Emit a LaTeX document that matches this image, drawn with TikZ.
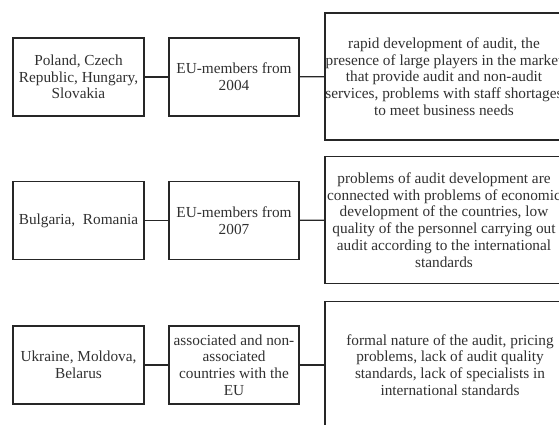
\documentclass[tikz,border=0pt]{standalone}
\usepackage{fontspec}
\setmainfont{Liberation Serif}
\usepackage{xcolor}
\definecolor{boxline}{HTML}{262626}
\definecolor{boxtext}{HTML}{303030}
\usepackage{tikz}
\usetikzlibrary{positioning}

\tikzset{
  country/.style={draw=boxline, line width=1.8pt, align=center, inner sep=0pt,
    minimum width=131pt, minimum height=78pt, text=boxtext},
  status/.style={country, minimum width=130pt},
  problem/.style={country, minimum width=238pt, minimum height=127pt},
  link/.style={draw=boxline, line width=1.3pt}
}

\begin{document}
\begin{tikzpicture}[x=1pt, y=-1pt, font=\fontsize{15.3}{16.7}\selectfont]
  \useasboundingbox (0,0) rectangle (559,424);
  \clip (0,0) rectangle (559,424);

  % EU-members from 2004
  \node[country] (cnt1) at (78.5,77)
    {Poland, Czech\\Republic, Hungary,\\Slovakia};
  \node[status] (stat1) at (234,77)
    {EU-members from\\2004};
  \node[problem] (prob1) at (444,76.5)
    {rapid development of audit, the\\presence of large players in the market\\that provide audit and non-audit\\services, problems with staff shortages\\to meet business needs};

  % EU-members from 2007
  \node[country] (cnt2) at (78.5,220.5)
    {Bulgaria,~ Romania};
  \node[status] (stat2) at (234,220.5)
    {EU-members from\\2007};
  \node[problem] (prob2) at (444,220)
    {problems of audit development are\\connected with problems of economic\\development of the countries, low\\quality of the personnel carrying out\\audit according to the international\\standards};

  % associated and non-associated
  \node[country] (cnt3) at (78.5,365)
    {Ukraine, Moldova,\\Belarus};
  \node[status] (stat3) at (234,365)
    {associated and non-\\associated\\countries with the\\EU};
  \node[problem] (prob3) at (444,365)
    {\hspace*{12pt}formal nature of the audit, pricing\\\hspace*{12pt}problems, lack of audit quality\\\hspace*{12pt}standards, lack of specialists in\\\hspace*{12pt}international standards};

  \draw[link] (cnt1) -- (stat1);
  \draw[link] (stat1) -- (prob1);
  \draw[link] (cnt2) -- (stat2);
  \draw[link] (stat2) -- (prob2);
  \draw[link] (cnt3) -- (stat3);
  \draw[link] (stat3) -- (prob3);
\end{tikzpicture}
\end{document}
